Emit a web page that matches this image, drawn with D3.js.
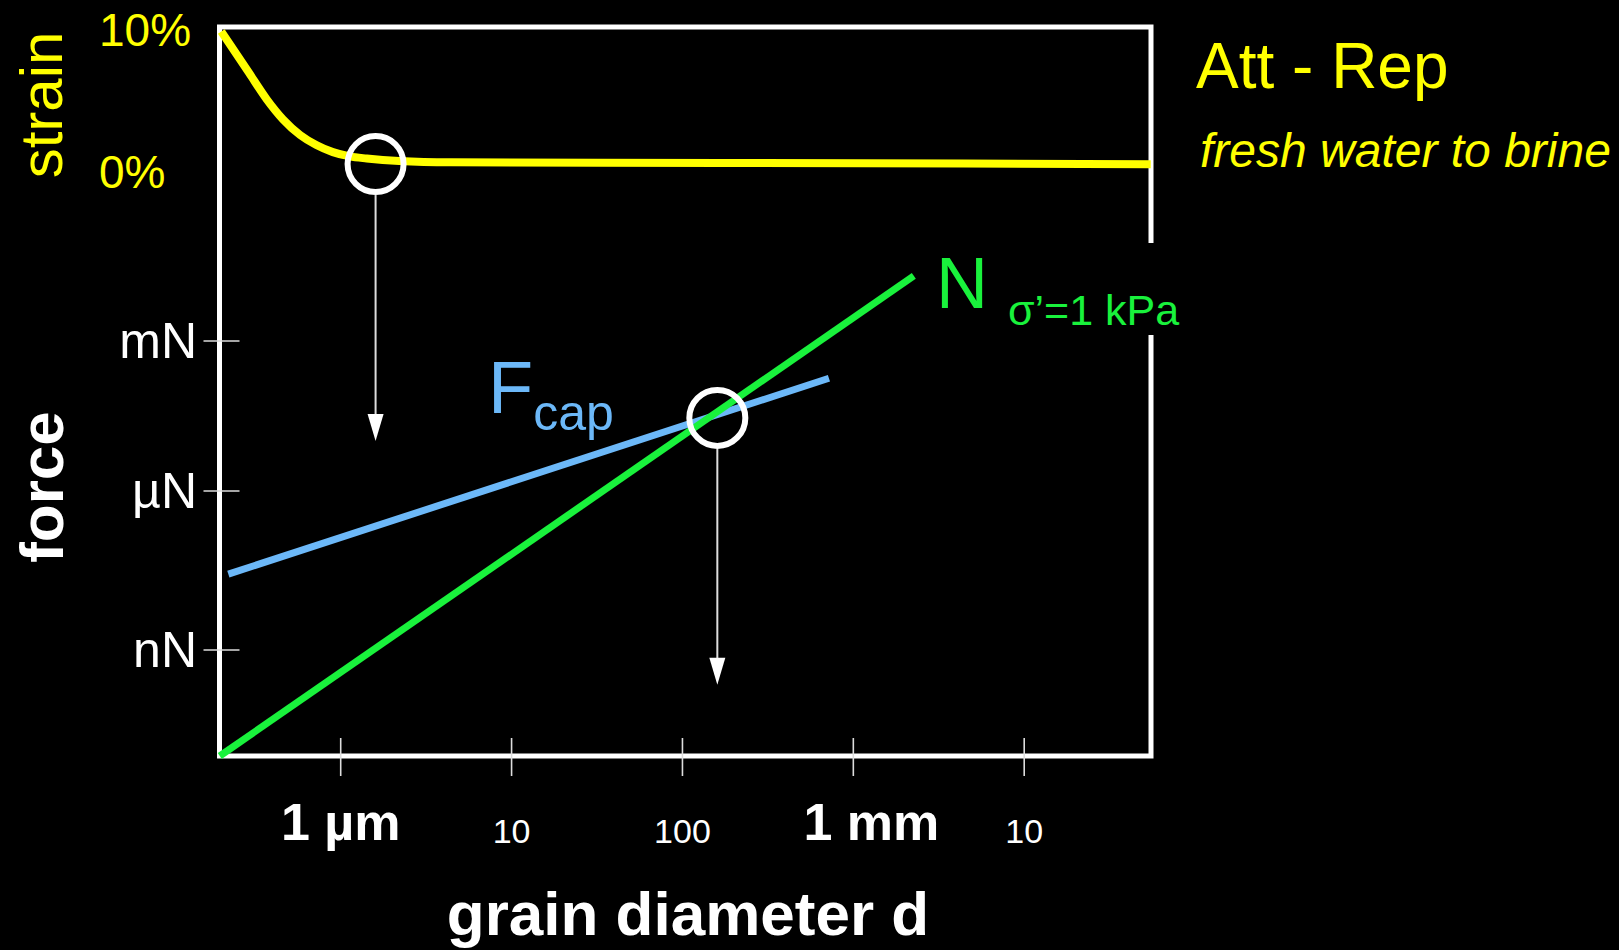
<!DOCTYPE html>
<html>
<head>
<meta charset="utf-8">
<style>
  *{margin:0;padding:0;box-sizing:border-box}
  body{background:#000;overflow:hidden;width:1619px;height:950px}
  svg{display:block}
  text{font-family:"Liberation Sans",Arial,Helvetica,sans-serif}
</style>
</head>
<body>
<svg id="g"></svg>
<script src="https://cdn.jsdelivr.net/npm/d3@7/dist/d3.min.js"></script>
<script>
const W=1619, H=950;
const YELLOW='#ffff00', GREEN='#19f23c', BLUE='#6cb8f8', WHITE='#ffffff', GREY='#dddddd';

// grain diameter ticks (metres)
const xTicks=[1e-6,1e-5,1e-4,1e-3,1e-2];
const xTickLabels=['1 µm','10','100','1 mm','10'];
const xTickBig=[true,false,false,true,false];

// force ticks (newtons)
const yTicks=[1e-3,1e-6,1e-9];
const yTickLabels=['mN','µN','nN'];

// strain ticks (%)
const strainTicks=[10,0];
const strainTickLabels=['10%','0%'];

// Att - Rep strain curve
const strainD=[0.2e-6,0.29e-6,0.37e-6,0.46e-6,0.58e-6,0.72e-6,0.9e-6,1.13e-6,1.42e-6,2.2e-6,4.4e-6,1.7e-4,5.5e-2];
const strainVal=[9.9,7.0,5.1,3.7,2.6,1.9,1.4,1.1,0.95,0.77,0.68,0.64,0.55];

// capillary force
const capD=[0.22e-6,7.2e-4];
const capF=[2.7e-8,1.8e-4];

// normal force at sigma' = 1 kPa
const normD=[0.196e-6,2.26e-3];
const normF=[1e-11,2e-2];

// circled points and the arrows dropping from them
const markD=[1.6e-6,1.6e-4];
const markAxis=['strain','force'];
const markVal=[0.56,2.9e-5];
const arrowTipF=[1e-5,2.2e-10];

// frame
const L=219.5, R=1151, T=27, B=756;

const x=d3.scaleLog().domain([1e-6,1e-2]).range([340.7,1024.2]);
const yF=d3.scaleLog().domain([1e-9,1e-6,1e-3]).range([650,491,341]);
const yS=d3.scaleLinear().domain([0,10]).range([172,30]);

const svg=d3.select('#g').attr('width',W).attr('height',H);
svg.append('rect').attr('width',W).attr('height',H).attr('fill','#000');

// frame, right edge broken where the N label sits
svg.append('path')
  .attr('d',`M${R},243 V${T} H${L} V${B} H${R} V335`)
  .attr('fill','none').attr('stroke',WHITE).attr('stroke-width',5);

// ticks
svg.append('g').selectAll('line').data(yTicks).enter().append('line')
  .attr('x1',L-16).attr('x2',L+20).attr('y1',d=>yF(d)).attr('y2',d=>yF(d))
  .attr('stroke',GREY).attr('stroke-width',1.6);
svg.append('g').selectAll('line').data(xTicks).enter().append('line')
  .attr('x1',d=>x(d)).attr('x2',d=>x(d)).attr('y1',B-18).attr('y2',B+20)
  .attr('stroke',GREY).attr('stroke-width',1.6);

svg.append('g').selectAll('text').data(yTicks).enter().append('text')
  .attr('x',197).attr('y',d=>yF(d)+17).attr('text-anchor','end')
  .attr('fill',WHITE).attr('font-size',50).text((d,i)=>yTickLabels[i]);

svg.append('g').selectAll('text').data(xTicks).enter().append('text')
  .attr('x',(d,i)=>x(d)+(i===3?18:0))
  .attr('y',(d,i)=>xTickBig[i]?840:843)
  .attr('text-anchor','middle').attr('fill',WHITE)
  .attr('font-size',(d,i)=>xTickBig[i]?52:34)
  .attr('font-weight',(d,i)=>xTickBig[i]?'bold':'normal')
  .text((d,i)=>xTickLabels[i]);

svg.append('g').selectAll('text').data(strainTicks).enter().append('text')
  .attr('x',99).attr('y',d=>yS(d)+16)
  .attr('fill',YELLOW).attr('font-size',46).text((d,i)=>strainTickLabels[i]);

// axis titles
svg.append('text').attr('x',688).attr('y',935).attr('text-anchor','middle')
  .attr('fill',WHITE).attr('font-size',62).attr('font-weight','bold').text('grain diameter d');
svg.append('text').attr('transform','translate(63,487) rotate(-90)').attr('text-anchor','middle')
  .attr('fill',WHITE).attr('font-size',62).attr('font-weight','bold').text('force');
svg.append('text').attr('transform','translate(62,105) rotate(-90)').attr('text-anchor','middle')
  .attr('fill',YELLOW).attr('font-size',60).text('strain');

// force lines
const fLine=d3.line().x(d=>x(d[0])).y(d=>yF(d[1]));
svg.append('path').datum(d3.zip(capD,capF)).attr('d',fLine)
  .attr('fill','none').attr('stroke',BLUE).attr('stroke-width',7);
svg.append('path').datum(d3.zip(normD,normF)).attr('d',fLine)
  .attr('fill','none').attr('stroke',GREEN).attr('stroke-width',7);

// strain curve
const sLine=d3.line().x(d=>x(d[0])).y(d=>yS(d[1])).curve(d3.curveMonotoneX);
svg.append('path').datum(d3.zip(strainD,strainVal)).attr('d',sLine)
  .attr('fill','none').attr('stroke',YELLOW).attr('stroke-width',8);

// circles + arrows
const markY=(i)=>markAxis[i]==='strain'?yS(markVal[i]):yF(markVal[i]);
const rC=28;
markD.forEach((d,i)=>{
  const cx=x(d), cy=markY(i), tip=yF(arrowTipF[i]);
  svg.append('line').attr('x1',cx).attr('x2',cx).attr('y1',cy+rC+3).attr('y2',tip-25)
    .attr('stroke',GREY).attr('stroke-width',2);
  svg.append('path').attr('d',`M${cx-8},${tip-27} L${cx+8},${tip-27} L${cx},${tip} Z`)
    .attr('fill',WHITE);
  svg.append('circle').attr('cx',cx).attr('cy',cy).attr('r',rC)
    .attr('fill','none').attr('stroke',WHITE).attr('stroke-width',6);
});

// labels
const fcap=svg.append('text').attr('x',488).attr('y',413).attr('fill',BLUE).attr('font-size',74);
fcap.append('tspan').text('F');
fcap.append('tspan').attr('font-size',50).attr('dy',17).text('cap');

svg.append('text').attr('x',936).attr('y',308).attr('fill',GREEN).attr('font-size',72).text('N');
svg.append('text').attr('x',1008).attr('y',325).attr('fill',GREEN).attr('font-size',43).text('σ’=1 kPa');

svg.append('text').attr('x',1196).attr('y',88).attr('fill',YELLOW).attr('font-size',64).text('Att - Rep');
svg.append('text').attr('x',1200).attr('y',167).attr('fill',YELLOW).attr('font-size',48)
  .attr('font-style','italic').text('fresh water to brine');
</script>
</body>
</html>
